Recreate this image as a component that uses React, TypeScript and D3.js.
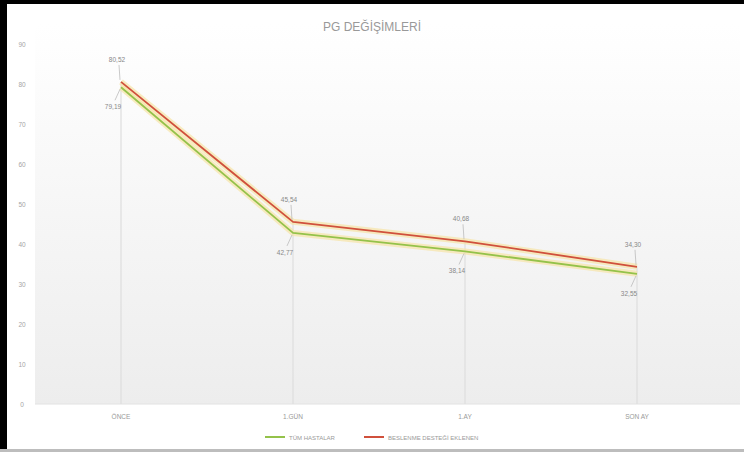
import React from "react";
import * as d3 from "d3";

const categories = ["ÖNCE", "1.GÜN", "1.AY", "SON AY"];
const allPatients = [79.19, 42.77, 38.14, 32.55];
const nutritionGroup = [80.52, 45.54, 40.68, 34.3];
const yTicks = [0, 10, 20, 30, 40, 50, 60, 70, 80, 90];
const seriesNames = ["TÜM HASTALAR", "BESLENME DESTEĞİ EKLENEN"];
const title = "PG DEĞİŞİMLERİ";

const W = 744, H = 452;
const plot = { left: 35, right: 723, top: 44, bottom: 404 };

const fmt = (v: number) => v.toFixed(2).replace(".", ",");

export default function App() {
  const x = d3.scaleBand<string>().domain(categories).range([plot.left, plot.right]);
  const y = d3.scaleLinear().domain([0, 90]).range([plot.bottom, plot.top]);
  const cx = (c: string) => (x(c) as number) + x.bandwidth() / 2;
  const line = d3.line<number>().x((_, i) => cx(categories[i])).y((d) => y(d));
  const font = "Liberation Sans, Arial, sans-serif";

  const series = [
    { name: seriesNames[0], data: allPatients, color: "#94c24a", dy: 20, dx: -8 },
    { name: seriesNames[1], data: nutritionGroup, color: "#d0503c", dy: -20, dx: -4 },
  ];

  return (
    <svg width={W} height={H} style={{ position: "absolute", left: 0, top: 0 }} fontFamily={font}>
      <defs>
        <linearGradient id="bg" x1="0" y1="0" x2="0" y2="1">
          <stop offset="0" stopColor="#ffffff" />
          <stop offset="1" stopColor="#ededed" />
        </linearGradient>
      </defs>
      <rect x={0} y={0} width={W} height={H} fill="#ffffff" />
      <rect x={plot.left} y={plot.top - 20} width={plot.right + 17 - plot.left} height={plot.bottom - plot.top + 20} fill="url(#bg)" />
      <line x1={plot.left} x2={plot.right + 17} y1={plot.bottom} y2={plot.bottom} stroke="#e2e2e2" />
      {/* frame */}
      <rect x={0} y={0} width={W} height={4} fill="#000" />
      <rect x={0} y={0} width={7} height={H} fill="#000" />
      <rect x={0} y={449} width={W} height={3} fill="#bdbdbd" />

      <text x={W / 2} y={31} textAnchor="middle" fontSize={12} fill="#999">{title}</text>

      {yTicks.map((t) => (
        <text key={t} x={22} y={y(t) + 2.5} textAnchor="middle" fontSize={6.5} fill="#a5a5a5">{t}</text>
      ))}

      {categories.map((c, i) => (
        <g key={c}>
          <line x1={cx(c)} x2={cx(c)} y1={y(Math.max(allPatients[i], nutritionGroup[i]))} y2={plot.bottom} stroke="#dedede" strokeWidth={1.2} />
          <text x={cx(c)} y={419} textAnchor="middle" fontSize={6.5} fill="#999">{c}</text>
        </g>
      ))}

      {series.map((s) => (
        <path key={s.name + "glow"} d={line(s.data) || ""} fill="none" stroke="#f6e4a6" strokeOpacity={0.7} strokeWidth={6} strokeLinejoin="round" />
      ))}
      {series.map((s) => (
        <path key={s.name} d={line(s.data) || ""} fill="none" stroke={s.color} strokeWidth={1.8} strokeLinejoin="round" />
      ))}

      {series.map((s) =>
        s.data.map((v, i) => {
          const px = cx(categories[i]);
          const py = y(v);
          const lx = px + s.dx;
          const ly = py + s.dy;
          return (
            <g key={s.name + i}>
              <line x1={px - 1} y1={py + (s.dy > 0 ? 2 : -2)} x2={lx + 2} y2={ly + (s.dy > 0 ? -7 : 3)} stroke="#bbb" strokeWidth={0.8} />
              <text x={lx} y={ly + (s.dy > 0 ? 2 : 0)} textAnchor="middle" fontSize={6.5} fill="#888">{fmt(v)}</text>
            </g>
          );
        })
      )}

      {/* legend */}
      <g>
        <line x1={265} x2={285} y1={437} y2={437} stroke={series[0].color} strokeWidth={2} />
        <text x={289} y={439.5} fontSize={6} fill="#999">{seriesNames[0]}</text>
        <line x1={364} x2={384} y1={437} y2={437} stroke={series[1].color} strokeWidth={2} />
        <text x={388} y={439.5} fontSize={6} fill="#999">{seriesNames[1]}</text>
      </g>
    </svg>
  );
}
